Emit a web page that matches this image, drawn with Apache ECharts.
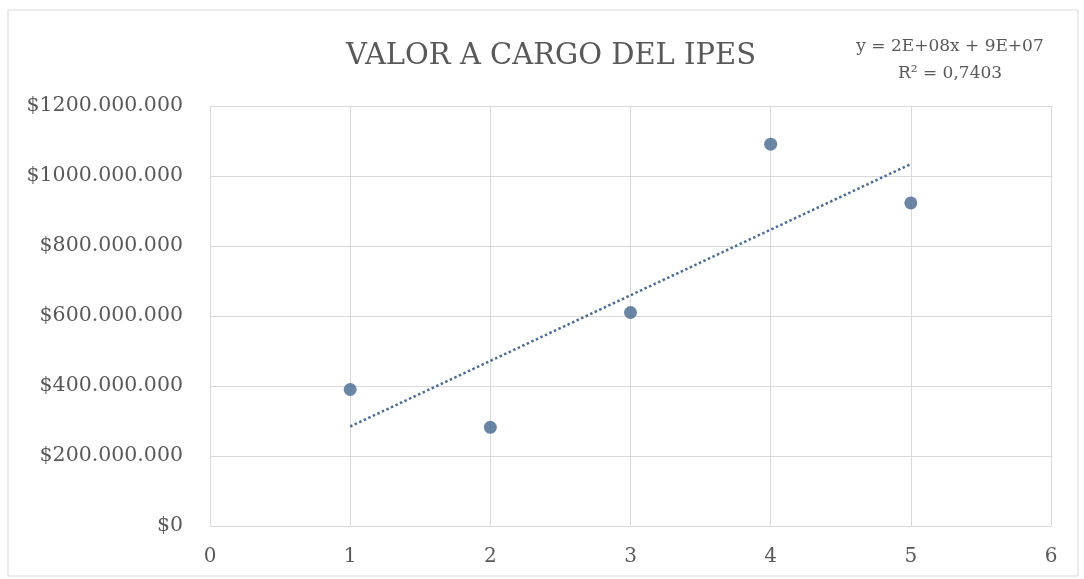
<!DOCTYPE html>
<html>
<head>
<meta charset="utf-8">
<script src="https://cdn.jsdelivr.net/npm/echarts@6/dist/echarts.min.js"></script>
<style>
  html, body { margin: 0; padding: 0; background: #fff; }
  #chart { width: 1084px; height: 579px; }
</style>
</head>
<body>
<div id="chart"></div>
<script>
// datos
const years = [1, 2, 3, 4, 5];
const valores = [390000000, 282000000, 610000000, 1091000000, 923000000];
const eqText = 'y = 2E+08x + 9E+07';
const r2Text = 'R² = 0,7403';

// línea de tendencia (mínimos cuadrados sobre los puntos)
const n = years.length;
const mx = years.reduce((a, b) => a + b, 0) / n;
const my = valores.reduce((a, b) => a + b, 0) / n;
let sxy = 0, sxx = 0;
years.forEach((x, i) => { sxy += (x - mx) * (valores[i] - my); sxx += (x - mx) * (x - mx); });
const slope = sxy / sxx;
const inter = my - slope * mx;
const trend = [[years[0], inter + slope * years[0]], [years[n - 1], inter + slope * years[n - 1]]];

const fontFam = '"DejaVu Serif", "Liberation Serif", serif';

const fmtPeso = v => v === 0 ? '$0' : '$' + (v / 1e6) + '.000.000';

const myChart = echarts.init(document.getElementById('chart'));
myChart.setOption({
  animation: false,
  backgroundColor: '#fff',
  title: {
    text: 'VALOR A CARGO DEL IPES',
    left: 546, top: 37, textAlign: 'center',
    textStyle: { fontFamily: fontFam, fontSize: 29, fontWeight: 'normal', color: '#595959' }
  },
  graphic: [
    {
      type: 'rect', shape: { x: 8, y: 10, width: 1070, height: 566 },
      style: { fill: 'none', stroke: '#d9d9d9', lineWidth: 1 }, silent: true
    },
    {
      type: 'text', x: 950, y: 33, silent: true,
      style: { text: eqText + '\n' + r2Text, fontFamily: fontFam, fontSize: 17, fill: '#595959', align: 'center', lineHeight: 27 }
    }
  ],
  grid: { left: 210, right: 33, top: 106, bottom: 53 },
  xAxis: {
    type: 'value', min: 0, max: 6, interval: 1,
    axisLine: { show: true, lineStyle: { color: '#d9d9d9' } },
    axisTick: { show: false },
    splitLine: { show: true, lineStyle: { color: '#d9d9d9' } },
    axisLabel: { color: '#595959', fontFamily: fontFam, fontSize: 20, margin: 21 }
  },
  yAxis: {
    type: 'value', min: 0, max: 1200000000, interval: 200000000,
    axisLine: { show: true, lineStyle: { color: '#d9d9d9' } },
    axisTick: { show: false },
    splitLine: { show: true, lineStyle: { color: '#d9d9d9' } },
    axisLabel: { color: '#595959', fontFamily: fontFam, fontSize: 20.5, margin: 27, formatter: fmtPeso }
  },
  series: [
    {
      type: 'line', data: trend, symbol: 'none', z: 1,
      lineStyle: { color: '#4a6c96', width: 2.5, type: [2.5, 2.5] }
    },
    {
      type: 'scatter', data: years.map((x, i) => [x, valores[i]]),
      symbolSize: 13, z: 2,
      itemStyle: { color: '#46688f' }
    }
  ]
});
</script>
</body>
</html>
